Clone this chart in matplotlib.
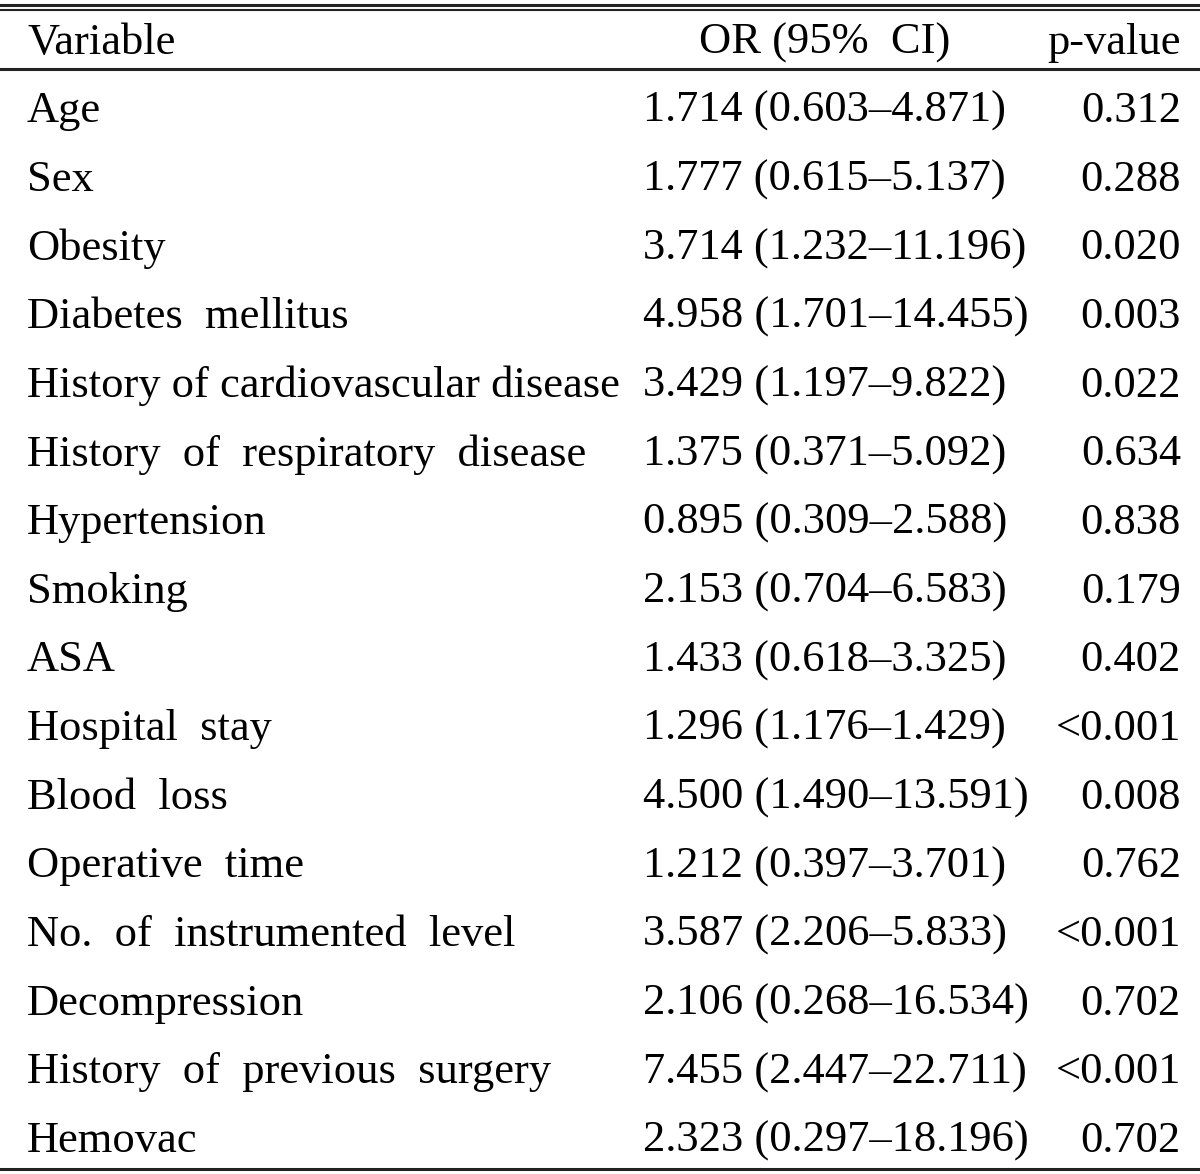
import matplotlib
matplotlib.use("Agg")
import matplotlib.pyplot as plt

# ========== Data ==========
variables = [
    "Age", "Sex", "Obesity", "Diabetes  mellitus",
    "History of cardiovascular disease", "History  of  respiratory  disease",
    "Hypertension", "Smoking", "ASA", "Hospital  stay", "Blood  loss",
    "Operative  time", "No.  of  instrumented  level", "Decompression",
    "History  of  previous  surgery", "Hemovac",
]
or_values = ["1.714", "1.777", "3.714", "4.958", "3.429", "1.375", "0.895", "2.153",
             "1.433", "1.296", "4.500", "1.212", "3.587", "2.106", "7.455", "2.323"]
ci_low = ["0.603", "0.615", "1.232", "1.701", "1.197", "0.371", "0.309", "0.704",
          "0.618", "1.176", "1.490", "0.397", "2.206", "0.268", "2.447", "0.297"]
ci_high = ["4.871", "5.137", "11.196", "14.455", "9.822", "5.092", "2.588", "6.583",
           "3.325", "1.429", "13.591", "3.701", "5.833", "16.534", "22.711", "18.196"]
p_values = ["0.312", "0.288", "0.020", "0.003", "0.022", "0.634", "0.838", "0.179",
            "0.402", "<0.001", "0.008", "0.762", "<0.001", "0.702", "<0.001", "0.702"]
headers = ["Variable", "OR (95%  CI)", "p-value"]

# ========== Plot ==========
plt.rcParams["font.family"] = ["Liberation Serif", "DejaVu Serif"]
W, H = 1200, 1174
fig = plt.figure(figsize=(W / 100, H / 100), dpi=100)
ax = fig.add_axes([0, 0, 1, 1])
ax.set_xlim(0, W)
ax.set_ylim(H, 0)
ax.axis("off")

fs = 32
line_col = "#222222"

# rules
ax.axhline(4.5, color=line_col, lw=2.2)
ax.axhline(10, color=line_col, lw=1.5)
ax.axhline(68.5, color=line_col, lw=2.2)
ax.axhline(1168.5, color=line_col, lw=2.2)

# header
hy = 43
ax.text(27, hy, headers[0], fontsize=fs, ha="left", va="center")
ax.text(825, hy, headers[1], fontsize=fs, ha="center", va="center")
ax.text(1181, hy, headers[2], fontsize=fs, ha="right", va="center")

# rows
y0, dy = 111, 68.67
for i, var in enumerate(variables):
    y = y0 + i * dy
    ax.text(27, y, var, fontsize=fs, ha="left", va="center")
    ax.text(643, y, f"{or_values[i]} ({ci_low[i]}\u2013{ci_high[i]})",
            fontsize=fs, ha="left", va="center")
    ax.text(1181, y, p_values[i], fontsize=fs, ha="right", va="center")

fig.savefig("out.png", dpi=100, facecolor="white")
